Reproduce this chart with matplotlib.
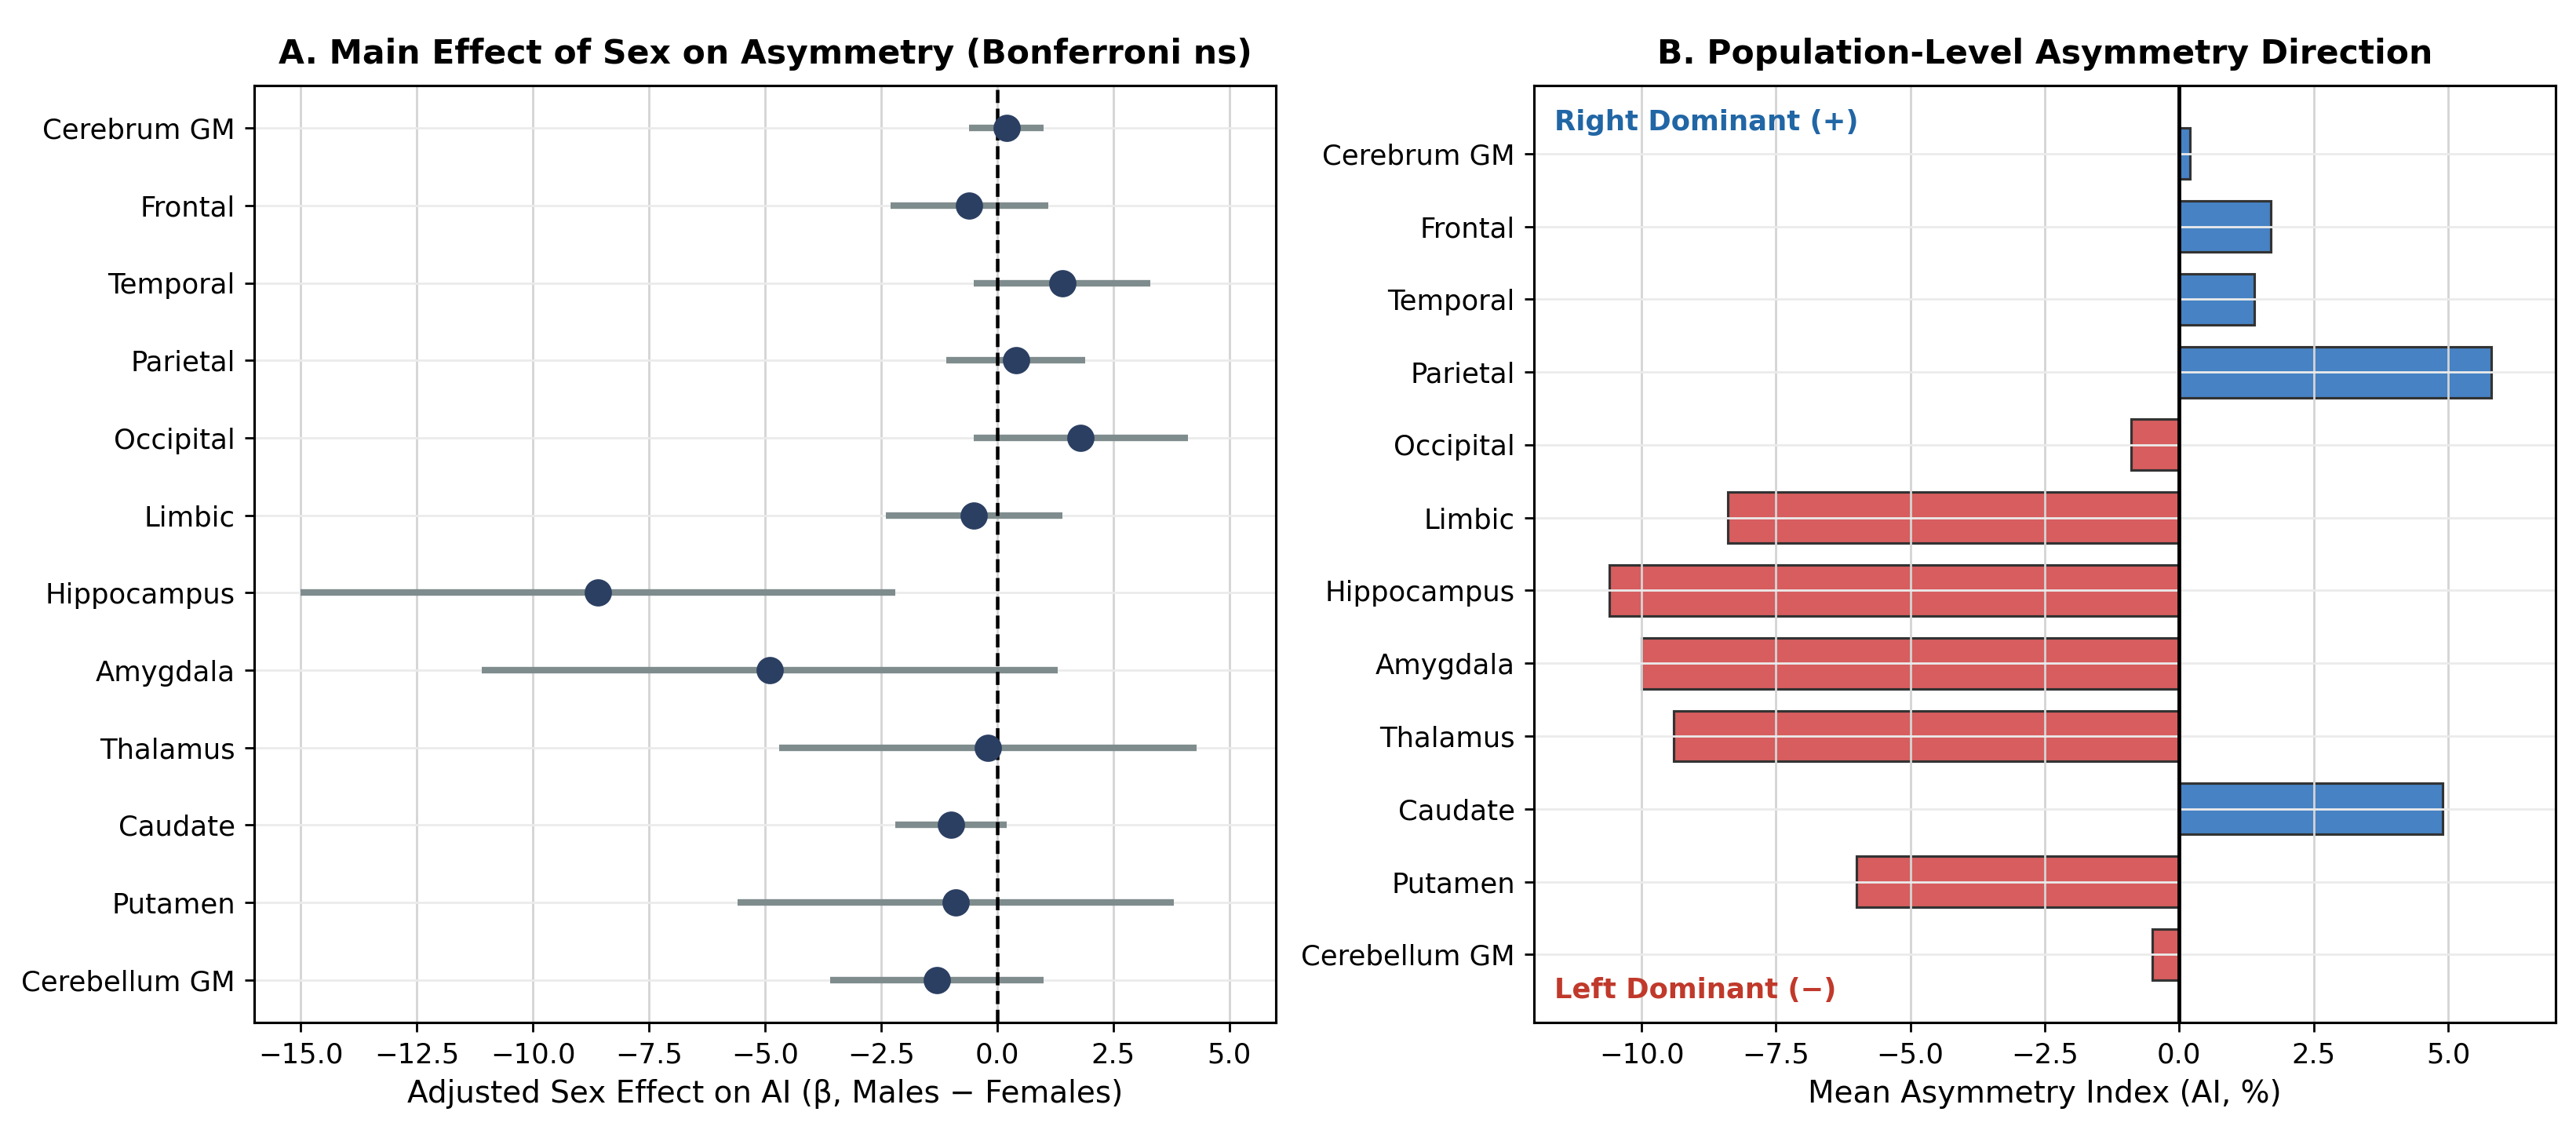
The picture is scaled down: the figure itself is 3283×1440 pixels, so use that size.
import matplotlib
matplotlib.use("Agg")
import matplotlib.pyplot as plt
import numpy as np

regions = ['Cerebrum GM', 'Frontal', 'Temporal', 'Parietal', 'Occipital', 'Limbic',
           'Hippocampus', 'Amygdala', 'Thalamus', 'Caudate', 'Putamen', 'Cerebellum GM']

# panel A: adjusted sex effect (beta) with 95% CI
beta = [0.2, -0.6, 1.4, 0.4, 1.8, -0.5, -8.6, -4.9, -0.2, -1.0, -0.9, -1.3]
ci_low = [-0.6, -2.3, -0.5, -1.1, -0.5, -2.4, -15.0, -11.1, -4.7, -2.2, -5.6, -3.6]
ci_high = [1.0, 1.1, 3.3, 1.9, 4.1, 1.4, -2.2, 1.3, 4.3, 0.2, 3.8, 1.0]

# panel B: mean asymmetry index (%)
mean_ai = [0.2, 1.7, 1.4, 5.8, -0.9, -8.4, -10.6, -10.0, -9.4, 4.9, -6.0, -0.5]

fig = plt.figure(figsize=(3283 / 250, 1440 / 250), dpi=250)
ax1 = fig.add_axes([0.0987, 0.0951, 0.3966, 0.8292])
ax2 = fig.add_axes([0.5955, 0.0951, 0.3966, 0.8292])

y = np.arange(len(regions))

for ax in (ax1, ax2):
    ax.grid(axis='x', color='#d4d4d4', linewidth=0.8)
    ax.grid(axis='y', color='#ebebeb', linewidth=0.8)
    ax.tick_params(labelsize=10.2)
    for s in ax.spines.values():
        s.set_linewidth(0.9)

# --- A: forest plot
ax1.hlines(y, ci_low, ci_high, color='#7f8c8d', linewidth=2.4, zorder=2)
ax1.axvline(0, color='black', linestyle='--', linewidth=1.3, zorder=2.5)
ax1.plot(beta, y, 'o', color='#2b3f62', markersize=9, zorder=3)
ax1.set_yticks(y)
ax1.set_yticklabels(regions)
ax1.set_xlim(-16, 6)
ax1.invert_yaxis()
ax1.set_xlabel('Adjusted Sex Effect on AI (β, Males − Females)', fontsize=11.2)
ax1.set_title('A. Main Effect of Sex on Asymmetry (Bonferroni ns)', fontsize=12.25,
              fontweight='bold', pad=8)

# --- B: direction of asymmetry
colors = ['#4682c4' if v > 0 else '#d75d5e' for v in mean_ai]
ax2.barh(y, mean_ai, height=0.7, color=colors, edgecolor='#333333', linewidth=0.9)
ax2.axvline(0, color='black', linewidth=1.4)
ax2.set_yticks(y)
ax2.set_yticklabels(regions)
ax2.set_xlim(-12, 7)
ax2.invert_yaxis()
ax2.set_xlabel('Mean Asymmetry Index (AI, %)', fontsize=11.2)
ax2.set_title('B. Population-Level Asymmetry Direction', fontsize=12.25,
              fontweight='bold', pad=8)
ax2.text(0.02, 0.975, 'Right Dominant (+)', transform=ax2.transAxes, fontsize=10.2,
         fontweight='bold', color='#2166a5', va='top', ha='left')
ax2.text(0.02, 0.02, 'Left Dominant (−)', transform=ax2.transAxes, fontsize=10.2,
         fontweight='bold', color='#c0392b', va='bottom', ha='left')

fig.savefig('out.png', dpi=250)
